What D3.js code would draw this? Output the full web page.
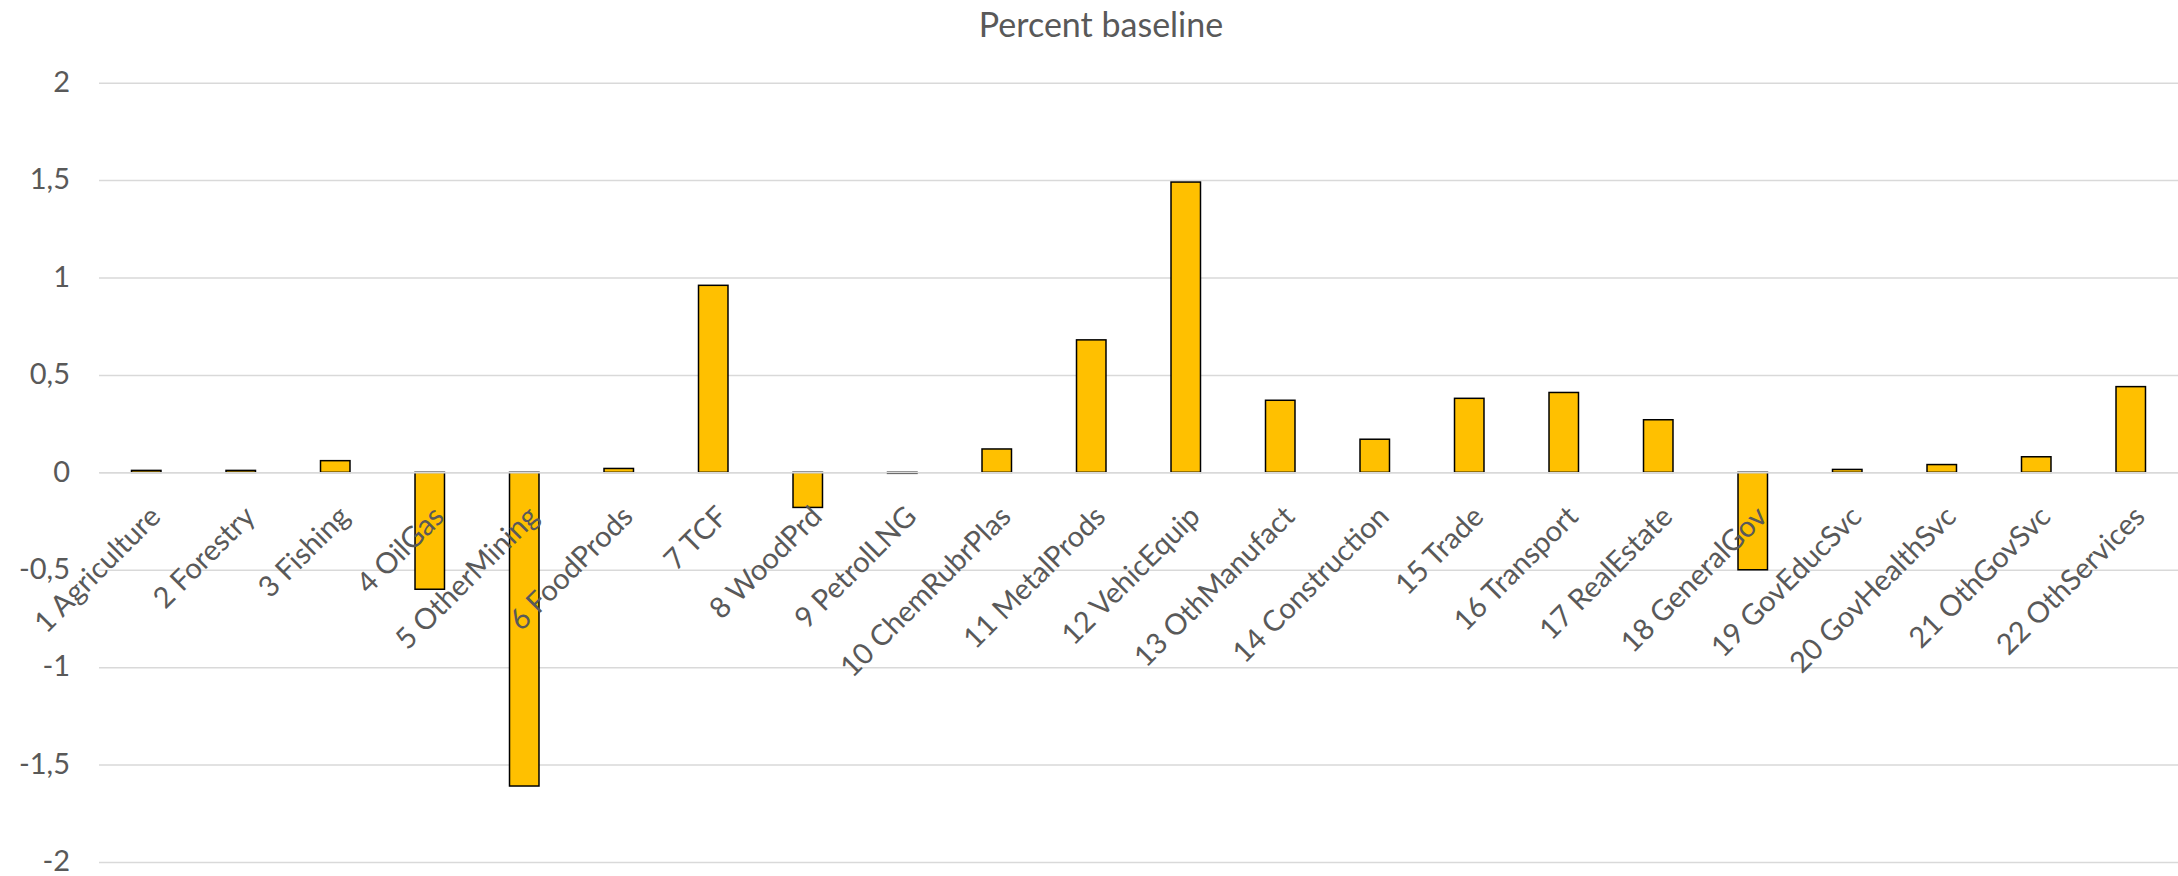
<!DOCTYPE html>
<html>
<head>
<meta charset="utf-8">
<script src="https://cdn.jsdelivr.net/npm/d3@7"></script>
<style>
  html, body { margin: 0; padding: 0; background: #ffffff; }
  svg { display: block; }
  text { font-family: Lato, "Open Sans", sans-serif; fill: #595959; }
</style>
</head>
<body>
<svg id="chart" width="2178" height="876"></svg>
<script>
// Sector results, percent deviation from baseline
const sectors = [
  "1 Agriculture", "2 Forestry", "3 Fishing", "4 OilGas", "5 OtherMining",
  "6 FoodProds", "7 TCF", "8 WoodPrd", "9 PetrolLNG", "10 ChemRubrPlas",
  "11 MetalProds", "12 VehicEquip", "13 OthManufact", "14 Construction",
  "15 Trade", "16 Transport", "17 RealEstate", "18 GeneralGov",
  "19 GovEducSvc", "20 GovHealthSvc", "21 OthGovSvc", "22 OthServices"
];
const percentBaseline = [
  0.01, 0.01, 0.06, -0.60, -1.61,
  0.02, 0.96, -0.18, -0.005, 0.12,
  0.68, 1.49, 0.37, 0.17,
  0.38, 0.41, 0.27, -0.50,
  0.015, 0.04, 0.08, 0.44
];
const yTicks = [-2, -1.5, -1, -0.5, 0, 0.5, 1, 1.5, 2];
const chartTitle = "Percent baseline";

const width = 2178, height = 876;
const plot = { left: 99, right: 2178, top: 82.7, bottom: 862 };

const svg = d3.select("#chart");
svg.append("rect").attr("width", width).attr("height", height).attr("fill", "#ffffff");

const x = d3.scaleBand()
  .domain(sectors)
  .range([plot.left, plot.right])
  .paddingInner(0.688)
  .paddingOuter(0.344);

const y = d3.scaleLinear()
  .domain([-2, 2])
  .range([plot.bottom, plot.top]);

// decimal comma for the value axis
const locale = d3.formatLocale({ decimal: ",", thousands: " ", grouping: [3], currency: ["", ""], minus: "-" });
const fmt = locale.format("~g");

// value axis with horizontal gridlines
const yAxis = svg.append("g")
  .attr("transform", `translate(${plot.left},0)`)
  .call(d3.axisLeft(y)
    .tickValues(yTicks)
    .tickFormat(fmt)
    .tickSizeInner(-(plot.right - plot.left))
    .tickSizeOuter(0)
    .tickPadding(29));
yAxis.select(".domain").remove();
yAxis.selectAll(".tick line").attr("stroke", "#d9d9d9").attr("stroke-width", 1.5);
yAxis.selectAll(".tick text")
  .attr("font-size", 29)
  .attr("fill", "#595959")
  .attr("dy", "0.3em")
  .attr("font-family", "Lato, 'Open Sans', sans-serif");

// bars
svg.append("g")
  .selectAll("rect")
  .data(sectors.map((s, i) => ({ s, v: percentBaseline[i] })))
  .join("rect")
  .attr("x", d => x(d.s))
  .attr("width", x.bandwidth())
  .attr("y", d => y(Math.max(0, d.v)))
  .attr("height", d => Math.abs(y(d.v) - y(0)))
  .attr("fill", "#ffc000")
  .attr("stroke", "#000000")
  .attr("stroke-width", 1.5);

// category axis along zero; labels are slanted at 45 degrees
const xAxis = svg.append("g")
  .attr("transform", `translate(0,${y(0)})`)
  .call(d3.axisBottom(x).tickSize(0));
xAxis.select(".domain")
  .attr("stroke", "#d9d9d9")
  .attr("stroke-width", 1.5);
xAxis.selectAll(".tick text").remove();
xAxis.selectAll(".tick")
  .append("g")
  .attr("transform", "translate(16,46) rotate(-45)")
  .append("text")
  .attr("font-size", 29)
  .attr("fill", "#595959")
  .attr("font-family", "Lato, 'Open Sans', sans-serif")
  .attr("text-anchor", "end")
  .attr("x", 0)
  .attr("y", 0)
  .text(d => d);

// title
svg.append("text")
  .attr("x", 1101)
  .attr("y", 37)
  .attr("text-anchor", "middle")
  .attr("font-size", 34)
  .attr("fill", "#595959")
  .text(chartTitle);
</script>
</body>
</html>
